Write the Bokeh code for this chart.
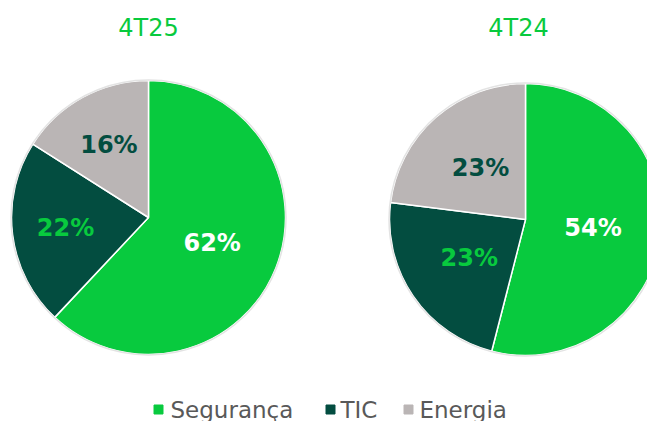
import numpy as np
from bokeh.plotting import figure
from bokeh.models import Range1d, ColumnDataSource
from bokeh.core.properties import value
from bokeh.embed import file_html
from bokeh.resources import INLINE

# ---- data ----
categories = ["Segurança", "TIC", "Energia"]
titles = ["4T25", "4T24"]
values_4T25 = [62, 22, 16]
values_4T24 = [54, 23, 23]
colors = ["#08CA3E", "#034D40", "#BAB5B5"]

W, H = 647, 421
p = figure(width=W, height=H, output_backend="svg", toolbar_location=None,
           x_range=Range1d(0, W), y_range=Range1d(0, H),
           min_border=0, outline_line_color=None)
p.axis.visible = False
p.grid.visible = False
p.background_fill_color = "white"
p.border_fill_color = "white"

FONT = value("DejaVu Sans")

def draw_pie(vals, cx, cy_px, r, title, tx, label_frac, label_colors):
    cy = H - cy_px
    v = np.array(vals, dtype=float)
    frac = v / v.sum()
    ends = np.cumsum(frac)
    starts = ends - frac
    start_ang = np.pi / 2 - starts * 2 * np.pi
    end_ang = np.pi / 2 - ends * 2 * np.pi
    src = ColumnDataSource(dict(start=start_ang, end=end_ang, color=colors,
                                cat=categories))
    p.wedge(x=cx, y=cy, radius=r, start_angle="start", end_angle="end",
            direction="clock", fill_color="color", line_color="white",
            line_width=1.5, source=src)
    p.circle(x=[cx], y=[cy], radius=r + 0.5, fill_color=None,
             line_color="#E3E3E3", line_width=1.5)
    mid = (start_ang + end_ang) / 2
    lr = np.array(label_frac) * r
    lx = cx + lr * np.cos(mid)
    ly = cy + lr * np.sin(mid)
    labels = [f"{int(x)}%" for x in vals]
    p.text(x=lx, y=ly, text=labels, text_color=label_colors,
           text_font=FONT, text_font_style="bold", text_font_size="24px",
           text_align="center", text_baseline="middle")
    p.text(x=[tx], y=[H - 27], text=[title], text_color="#08CA3E",
           text_font=FONT, text_font_size="24px",
           text_align="center", text_baseline="middle")

draw_pie(values_4T25, 148, 217, 137, titles[0], 148, [0.5, 0.61, 0.6],
         ["white", "#08CA3E", "#034D40"])
draw_pie(values_4T24, 525, 219, 136, titles[1], 518, [0.5, 0.5, 0.5],
         ["white", "#08CA3E", "#034D40"])

# legend
leg_sq_x = [158, 330, 408]
leg_tx_x = [170, 340, 419]
leg_y = H - 409
p.scatter(x=leg_sq_x, y=[leg_y] * 3, marker="square", size=9, color=colors)
p.text(x=leg_tx_x, y=[leg_y] * 3, text=categories,
       text_color="#595959", text_font=FONT, text_font_size="23px",
       text_align="left", text_baseline="middle")

open("out.html", "w").write(file_html(p, INLINE))
